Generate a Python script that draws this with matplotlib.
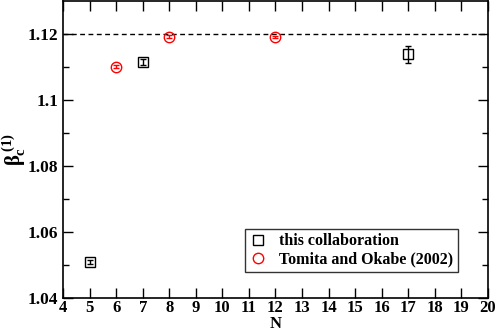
import numpy as np
import matplotlib
matplotlib.use("Agg")
import matplotlib.pyplot as plt
from matplotlib.lines import Line2D

plt.rcParams['font.family'] = ['Liberation Serif', 'DejaVu Serif']
plt.rcParams['font.weight'] = 'bold'
plt.rcParams['mathtext.fontset'] = 'custom'
plt.rcParams['mathtext.rm'] = 'Liberation Serif:bold'
plt.rcParams['mathtext.it'] = 'Liberation Serif:bold'

# this collaboration
N_ours = [5, 7, 17]
beta_ours = [1.0507, 1.1115, 1.1138]
err_ours = [0.0006, 0.0008, 0.0026]

# Tomita and Okabe (2002)
N_to = [6, 8, 12]
beta_to = [1.1101, 1.1192, 1.1191]
err_to = [0.0005, 0.0004, 0.0004]

beta_ref = 1.12

fig = plt.figure(figsize=(4.97, 3.31), dpi=100)
ax = fig.add_axes([0.1268, 0.1006, 0.855, 0.8964])

ax.axhline(beta_ref, color='black', ls=(0, (3.5, 2.5)), lw=1.0)

ax.errorbar(N_ours, beta_ours, yerr=err_ours, fmt='s', ms=6.5, mfc='none',
            mec='black', mew=1.0, ecolor='black', elinewidth=1.0, capsize=2)
ax.errorbar(N_to, beta_to, yerr=err_to, fmt='o', ms=7.5, mfc='none',
            mec='red', mew=1.0, ecolor='red', elinewidth=1.0, capsize=2)

ax.set_xlim(4, 20)
ax.set_ylim(1.04, 1.13)
ax.set_xticks(np.arange(4, 21, 1))
ax.set_yticks([1.04, 1.06, 1.08, 1.1, 1.12])
ax.set_yticklabels(['1.04', '1.06', '1.08', '1.1', '1.12'])
ax.set_yticks(np.arange(1.05, 1.13, 0.02), minor=True)
ax.tick_params(which='both', direction='in', top=True, right=True,
               labelsize=12.5, width=1.0)
ax.tick_params(axis='x', pad=2, labelsize=12)
ax.tick_params(which='major', length=7)
ax.tick_params(which='minor', length=4)
for s in ax.spines.values():
    s.set_linewidth(1.2)

ax.set_xlabel('N', fontsize=12, fontweight='bold')
ax.xaxis.set_label_coords(0.5, -0.06)
ax.set_ylabel(r'$\beta_c^{\,(1)}$', fontsize=15)
ax.yaxis.set_label_coords(-0.082, 0.5)

handles = [
    Line2D([], [], ls='none', marker='s', ms=6.5, mfc='none', mec='black', mew=1.0),
    Line2D([], [], ls='none', marker='o', ms=7.5, mfc='none', mec='red', mew=1.0),
]
labels = ['this collaboration', 'Tomita and Okabe (2002)']
leg = ax.legend(handles, labels, loc='lower right', bbox_to_anchor=(0.929, 0.085),
                fontsize=11.5, frameon=True, fancybox=False, edgecolor='black',
                handletextpad=0.8, borderpad=0.3, labelspacing=0.15,
                handlelength=1.0, borderaxespad=0)
leg.get_frame().set_linewidth(1.0)

fig.savefig('out.png', dpi=100)
